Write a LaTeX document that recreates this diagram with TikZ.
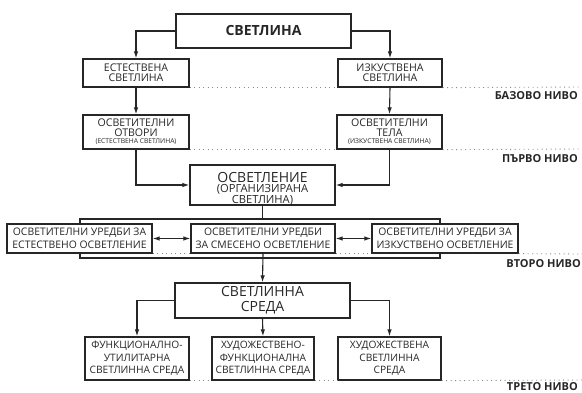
\documentclass[tikz,border=0pt]{standalone}
\usepackage{fontspec}
\setmainfont{Open Sans}
\usetikzlibrary{arrows.meta,positioning}
\definecolor{ink}{HTML}{262626}
\definecolor{dotc}{HTML}{8A8A8A}
\begin{document}
\begin{tikzpicture}[x=1pt,y=-1pt,
  box/.style={draw=ink,line width=1.3pt,rectangle,inner sep=0pt,align=center,text=ink},
  conn/.style={draw=ink,line width=1.1pt,-{Latex[length=7pt,width=4.5pt]}},
  biconn/.style={draw=ink,line width=1.1pt,{Latex[length=7pt,width=4.5pt]}-{Latex[length=7pt,width=4.5pt]}},
  plain/.style={draw=ink,line width=1.1pt},
  dots/.style={draw=dotc,line width=0.9pt,dash pattern=on 0.9pt off 3.6pt},
  lvl/.style={anchor=east,text=ink,inner sep=0pt,font=\fontsize{11}{11}\selectfont\bfseries},
  smallf/.style={font=\fontsize{10.6}{9.7}\selectfont},
  midf/.style={font=\fontsize{10.4}{13.2}\selectfont},
  botf/.style={font=\fontsize{10.2}{12.4}\selectfont}
]
\useasboundingbox (0,0) rectangle (582,392);
% group frame of second level
\node[draw=ink,line width=1.1pt,minimum width=360pt,minimum height=39pt,inner sep=0pt] (grp) at (260,238.5) {};
% nodes
\node[box,line width=2.2pt,minimum width=175pt,minimum height=34pt,font=\fontsize{14}{16}\selectfont\bfseries] (top) at (263.5,31) {СВЕТЛИНА};
\node[box,smallf,minimum width=106pt,minimum height=28pt] (nat) at (136,73) {ЕСТЕСТВЕНА\\СВЕТЛИНА};
\node[box,smallf,minimum width=104pt,minimum height=28pt] (art) at (390,73) {ИЗКУСТВЕНА\\СВЕТЛИНА};
\node[box,smallf,minimum width=106pt,minimum height=34pt] (otv) at (136,132) {ОСВЕТИТЕЛНИ\\ОТВОРИ\\[-2.5pt]{\fontsize{6.7}{6}\selectfont (ЕСТЕСТВЕНА СВЕТЛИНА)}};
\node[box,smallf,minimum width=105pt,minimum height=34pt] (tel) at (389.5,132) {ОСВЕТИТЕЛНИ\\ТЕЛА\\[-2.5pt]{\fontsize{6.7}{6}\selectfont (ИЗКУСТВЕНА СВЕТЛИНА)}};
\node[box,minimum width=145pt,minimum height=40pt] (osv) at (262.5,185) {};
\node[align=center,text=ink,inner sep=0pt,font=\fontsize{11.2}{10.6}\selectfont] (osvtxt) at (262.5,188.5) {{\fontsize{14}{14}\selectfont ОСВЕТЛЕНИЕ}\\[0pt](ОРГАНИЗИРАНА\\СВЕТЛИНА)};
\node[box,midf,fill=white,minimum width=145pt,minimum height=29pt] (u1) at (79.5,238.5) {ОСВЕТИТЕЛНИ УРЕДБИ ЗА\\ЕСТЕСТВЕНО ОСВЕТЛЕНИЕ};
\node[box,midf,fill=white,minimum width=144pt,minimum height=29pt] (u2) at (263,238.5) {ОСВЕТИТЕЛНИ УРЕДБИ\\ЗА СМЕСЕНО ОСВЕТЛЕНИЕ};
\node[box,midf,fill=white,minimum width=146pt,minimum height=29pt] (u3) at (445,238.5) {ОСВЕТИТЕЛНИ УРЕДБИ ЗА\\ИЗКУСТВЕНО ОСВЕТЛЕНИЕ};
\node[box,minimum width=175pt,minimum height=35pt,font=\fontsize{14}{15}\selectfont] (sreda) at (262.5,300.5) {СВЕТЛИННА\\СРЕДА};
\node[box,botf,minimum width=104pt,minimum height=43pt] (b1) at (137,358.5) {ФУНКЦИОНАЛНО-\\УТИЛИТАРНА\\СВЕТЛИННА СРЕДА};
\node[box,botf,minimum width=102pt,minimum height=43pt] (b2) at (263,358.5) {ХУДОЖЕСТВЕНО-\\ФУНКЦИОНАЛНА\\СВЕТЛИННА СРЕДА};
\node[box,botf,minimum width=103pt,minimum height=43pt] (b3) at (389.5,358.5) {ХУДОЖЕСТВЕНА\\СВЕТЛИННА\\СРЕДА};
% level labels
\node[lvl] (l0) at (578,96) {БАЗОВО НИВО};
\node[lvl] (l1) at (578,159) {ПЪРВО НИВО};
\node[lvl] (l2) at (581,264) {ВТОРО НИВО};
\node[lvl] (l3) at (578,386.5) {ТРЕТО НИВО};
\coordinate (e0) at (582,87);
\coordinate (e1) at (582,149);
\coordinate (e2) at (582,254);
\coordinate (e3) at (582,380);
% dotted level lines
\draw[dots] (nat.south east) -- (art.south west);
\draw[dots] (art.south east) -- (e0);
\draw[dots] (otv.south east) -- (tel.south west);
\draw[dots] (tel.south east) -- (e1);
\draw[dots] (u1.south east) -- (u2.south west);
\draw[dots] (u2.south east) -- (u3.south west);
\draw[dots] (u3.south east) -- (e2);
\draw[dots] (b1.south east) -- (b2.south west);
\draw[dots] (b2.south east) -- (b3.south west);
\draw[dots] (b3.south east) -- (e3);
% connectors
\draw[conn] (top.west) -| (nat.north);
\draw[conn] (top.east) -| (art.north);
\draw[conn] (nat.south) -- (otv.north);
\draw[conn] (art.south) -- (tel.north);
\draw[conn] (otv.south) |- (osv.west);
\draw[conn] (tel.south) |- (osv.east);
\draw[plain] (osv.south) -- (osv.south |- grp.north);
\draw[biconn] (u1.east) -- (u2.west);
\draw[biconn] (u2.east) -- (u3.west);
\draw[conn] (u2.south) -- (sreda.north);
\draw[conn] (sreda.west) -| (b1.north);
\draw[conn] (sreda.south) -- (b2.north);
\draw[conn] (sreda.east) -| (b3.north);
\end{tikzpicture}
\end{document}
